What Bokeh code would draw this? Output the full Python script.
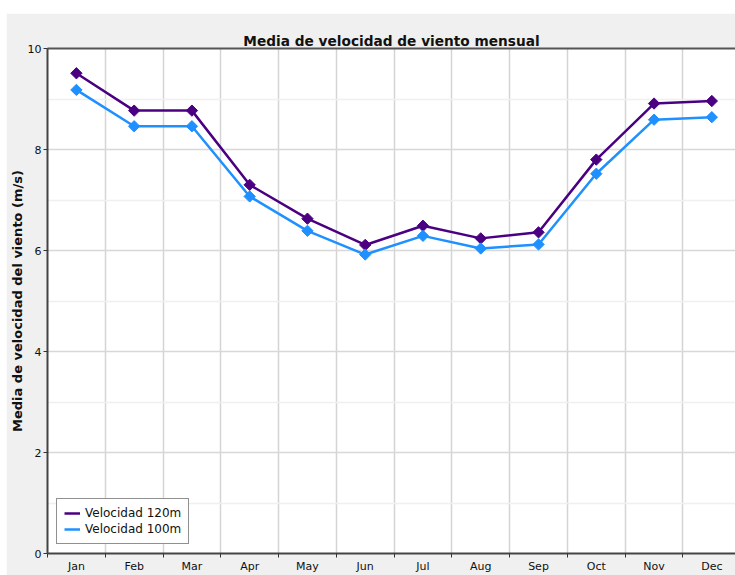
from bokeh.plotting import figure
from bokeh.models import (Range1d, FixedTicker, LinearAxis, Legend, LegendItem, ColumnDataSource)
from bokeh.embed import file_html
from bokeh.resources import INLINE

months = ["Jan", "Feb", "Mar", "Apr", "May", "Jun", "Jul", "Aug", "Sep", "Oct", "Nov", "Dec"]
vel_120 = [9.51, 8.77, 8.77, 7.30, 6.63, 6.11, 6.49, 6.24, 6.36, 7.80, 8.91, 8.96]
vel_100 = [9.18, 8.46, 8.46, 7.07, 6.39, 5.92, 6.29, 6.04, 6.12, 7.52, 8.59, 8.64]
y_ticks = [0, 2, 4, 6, 8, 10]
y_minor = [1, 3, 5, 7, 9]

x_pos = list(range(1, len(months) + 1))
src = ColumnDataSource(dict(x=x_pos, v120=vel_120, v100=vel_100))

FONT = "DejaVu Sans"
PURPLE = "#4B0082"
BLUE = "#1E90FF"

p = figure(width=729, height=562, margin=(13, 0, 0, 6),
           output_backend="svg", toolbar_location=None,
           x_range=Range1d(0.5, 12.41), y_range=Range1d(0, 10),
           title="Media de velocidad de viento mensual",
           min_border_left=30, min_border_right=0, min_border_top=35, min_border_bottom=0)

p.border_fill_color = "#f0f0f0"
p.background_fill_color = "white"
p.outline_line_color = None

p.title.align = "center"
p.title.text_font = FONT
p.title.text_font_size = "13.7px"
p.title.text_font_style = "bold"
p.title.text_color = "#111111"
p.title.standoff = 0

# x axis: labels at month centres, small ticks at boundaries
xa = p.xaxis[0]
xa.ticker = FixedTicker(ticks=x_pos, minor_ticks=[i + 0.5 for i in range(0, 13)])
xa.major_label_overrides = {i + 1: m for i, m in enumerate(months)}
xa.major_tick_line_color = None
xa.major_tick_in = 0
xa.major_tick_out = 0
xa.minor_tick_in = 0
xa.minor_tick_out = 4
xa.minor_tick_line_color = "#333333"
xa.axis_line_color = "#444444"
xa.axis_line_width = 2
xa.major_label_text_font = FONT
xa.major_label_text_font_size = "11px"
xa.major_label_text_color = "#111111"
xa.major_label_standoff = 2

ya = p.yaxis[0]
ya.ticker = FixedTicker(ticks=y_ticks, minor_ticks=y_minor)
ya.major_tick_in = 0
ya.major_tick_out = 4
ya.major_tick_line_color = "#333333"
ya.minor_tick_line_color = None
ya.minor_tick_in = 0
ya.minor_tick_out = 0
ya.axis_line_color = "#444444"
ya.axis_line_width = 2
ya.major_label_text_font = FONT
ya.major_label_text_font_size = "11px"
ya.major_label_text_color = "#111111"
ya.major_label_standoff = 2
ya.axis_label = "Media de velocidad del viento (m/s)"
ya.axis_label_text_font = FONT
ya.axis_label_text_font_size = "13px"
ya.axis_label_text_font_style = "bold"
ya.axis_label_text_color = "#111111"
ya.axis_label_standoff = 0

# top border line
top = LinearAxis(ticker=FixedTicker(ticks=[]), major_label_text_font_size="0px",
                 major_tick_line_color=None, minor_tick_line_color=None,
                 major_tick_in=0, major_tick_out=0, minor_tick_in=0, minor_tick_out=0,
                 major_label_standoff=0,
                 axis_line_color="#555555", axis_line_width=2)
p.add_layout(top, "above")

# grids
p.xgrid.ticker = FixedTicker(ticks=[i + 0.5 for i in range(1, 12)])
p.xgrid.grid_line_color = "#d4d4d4"
p.xgrid.grid_line_width = 1.5
p.ygrid.ticker = FixedTicker(ticks=y_ticks, minor_ticks=y_minor)
p.ygrid.grid_line_color = "#d8d8d8"
p.ygrid.grid_line_width = 1.5
p.ygrid.minor_grid_line_color = "#f0f0f0"
p.ygrid.minor_grid_line_width = 1.5

l120 = p.line("x", "v120", source=src, line_color=PURPLE, line_width=2.5)
l100 = p.line("x", "v100", source=src, line_color=BLUE, line_width=2.5)
p.scatter("x", "v120", source=src, marker="square", angle=0.785398, size=8,
          fill_color=PURPLE, line_color=PURPLE)
p.scatter("x", "v100", source=src, marker="square", angle=0.785398, size=8,
          fill_color=BLUE, line_color=BLUE)

legend = Legend(items=[LegendItem(label="Velocidad 120m", renderers=[l120]),
                       LegendItem(label="Velocidad 100m", renderers=[l100])],
                location="bottom_left", margin=9, padding=7, spacing=2,
                glyph_width=16, glyph_height=14, label_height=14,
                label_text_font=FONT, label_text_font_size="12px",
                label_text_color="#111111", label_standoff=5,
                border_line_color="#222222", border_line_width=1.5,
                background_fill_color="white", background_fill_alpha=1.0)
p.add_layout(legend)

open("out.html", "w").write(file_html(p, INLINE))
